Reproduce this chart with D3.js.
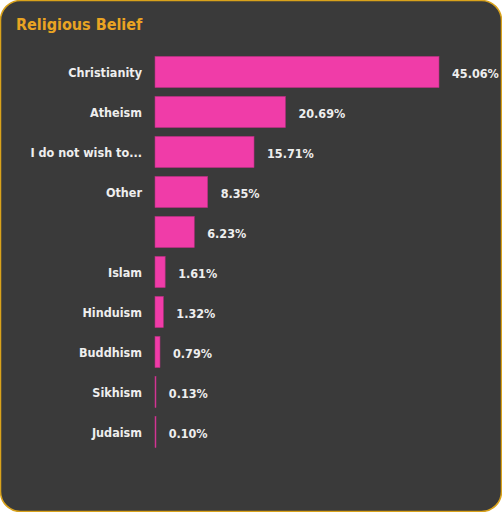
<!DOCTYPE html>
<html>
<head>
<meta charset="utf-8">
<script src="https://cdn.jsdelivr.net/npm/d3@7"></script>
<style>
body { margin: 0; background: #ffffff; }
</style>
</head>
<body>
<div id="chart"></div>
<script>
var w = 502;
var h = 512;
var margin = ({top: 52, right: 63, bottom: 60, left: 155});

var categories = ["Christianity", "Atheism", "I do not wish to...", "Other", "", "Islam", "Hinduism", "Buddhism", "Sikhism", "Judaism"];
var values = [45.06, 20.69, 15.71, 8.35, 6.23, 1.61, 1.32, 0.79, 0.13, 0.10];
var valueLabels = ["45.06%", "20.69%", "15.71%", "8.35%", "6.23%", "1.61%", "1.32%", "0.79%", "0.13%", "0.10%"];

var fontFam = "'DejaVu Sans Condensed', 'Liberation Sans Narrow', 'DejaVu Sans', sans-serif";

var svg = d3.select("#chart")
    .append("svg")
    .attr("width", w)
    .attr("height", h);

// card background + gold border
svg.append("rect")
    .attr("x", 0.5)
    .attr("y", 0.5)
    .attr("width", w - 1)
    .attr("height", h - 1)
    .attr("rx", 20)
    .attr("ry", 20)
    .attr("fill", "#3a3a3a")
    .attr("stroke", "#d9a21b")
    .attr("stroke-width", 1.5);

svg.append("text")
    .attr("x", 16)
    .attr("y", 30)
    .attr("fill", "#e9a423")
    .attr("font-family", fontFam)
    .attr("font-weight", "bold")
    .attr("font-size", 16)
    .text("Religious Belief");

var yScale = d3.scaleBand()
    .domain(d3.range(categories.length))
    .range([margin.top, margin.top + 40 * categories.length])
    .paddingInner(0.22)
    .paddingOuter(0.11);

var xScale = d3.scaleLinear()
    .domain([0, 45.06])
    .range([margin.left, 439]);

svg.selectAll(".bar")
    .data(values)
    .enter()
    .append("rect")
    .attr("class", "bar")
    .attr("x", xScale(0))
    .attr("y", function(d, i) { return yScale(i); })
    .attr("width", function(d) { return Math.max(xScale(d) - xScale(0), 1); })
    .attr("height", yScale.bandwidth())
    .attr("fill", "#f03ca8")
    .attr("stroke", "#b62f80")
    .attr("stroke-width", 0.6);

svg.selectAll(".catlabel")
    .data(categories)
    .enter()
    .append("text")
    .attr("class", "catlabel")
    .attr("x", 142)
    .attr("y", function(d, i) { return yScale(i) + yScale.bandwidth() / 2; })
    .attr("dy", "0.4em")
    .attr("text-anchor", "end")
    .attr("fill", "#eeeeee")
    .attr("font-family", fontFam)
    .attr("font-weight", "bold")
    .attr("font-size", 12.5)
    .text(function(d) { return d; });

svg.selectAll(".vallabel")
    .data(values)
    .enter()
    .append("text")
    .attr("class", "vallabel")
    .attr("x", function(d) { return xScale(d) + 13; })
    .attr("y", function(d, i) { return yScale(i) + yScale.bandwidth() / 2; })
    .attr("dy", "0.45em")
    .attr("fill", "#eeeeee")
    .attr("font-family", fontFam)
    .attr("font-weight", "bold")
    .attr("font-size", 12.5)
    .text(function(d, i) { return valueLabels[i]; });
</script>
</body>
</html>
